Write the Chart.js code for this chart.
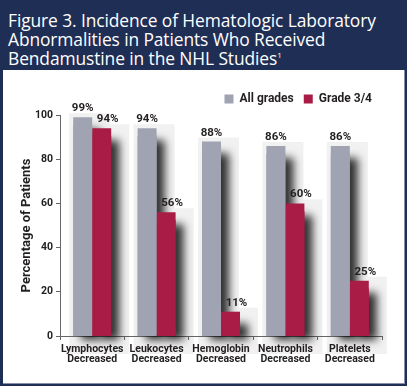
<!DOCTYPE html>
<html>
<head>
<meta charset="utf-8">
<script src="https://cdn.jsdelivr.net/npm/chart.js@4"></script>
<style>
  html, body { margin: 0; padding: 0; }
  body { width: 407px; height: 386px; background: #1f2e54; position: relative; overflow: hidden; }
  #title {
    position: absolute; left: 8px; top: 11px; width: 396px;
    color: #fff; font-family: "Open Sans", sans-serif; font-size: 17.4px; line-height: 19px;
    letter-spacing: -0.1px; white-space: nowrap;
  }
  #title sup { font-size: 8px; vertical-align: 7px; line-height: 0; }
  #panel {
    position: absolute; left: 3px; top: 70px; width: 402px; height: 314px;
    background: #fff; border-right: 1px solid #8a90aa; border-bottom: 1px solid #8a90aa; box-sizing: border-box;
  }
  #chart { position: absolute; left: 0; top: 0; }
</style>
</head>
<body>
<div id="title">Figure 3. Incidence of Hematologic Laboratory<br>Abnormalities in Patients Who Received<br>Bendamustine in the NHL Studies<sup>1</sup></div>
<div id="panel"><canvas id="chart" width="401" height="313"></canvas></div>
<script>
// data
const categories = [
  ['Lymphocytes', 'Decreased'],
  ['Leukocytes', 'Decreased'],
  ['Hemoglobin', 'Decreased'],
  ['Neutrophils', 'Decreased'],
  ['Platelets', 'Decreased'],
];
const allGrades = [99, 94, 88, 86, 86];
const grade34 = [94, 56, 11, 60, 25];
const seriesNames = ['All grades', 'Grade 3/4'];
const yTicks = [0, 20, 40, 60, 80, 100];

const GRAY = '#a0a3b1';
const RED = '#a81c45';
const TXT = '#231f20';
const FONT = 'Roboto, "Open Sans", sans-serif';
const NARROW = '"Liberation Sans Narrow", Roboto, sans-serif';

// light panels behind bars (drawn before the axes) and drop shadows
const shadowPlugin = {
  id: 'barShadows',
  beforeDraw(chart) {
    const ctx = chart.ctx;
    const base = chart.scales.y.getPixelForValue(0);
    ctx.save();
    ctx.fillStyle = '#f1f1f2';
    chart.data.datasets.forEach((ds, i) => {
      chart.getDatasetMeta(i).data.forEach((bar) => {
        const w = bar.width;
        ctx.fillRect(bar.x - w / 2 - 4, bar.y - 4, w + 22, base - bar.y + 22);
      });
    });
    ctx.restore();
  },
  beforeDatasetsDraw(chart) {
    const ctx = chart.ctx;
    const base = chart.scales.y.getPixelForValue(0);
    chart.data.datasets.forEach((ds, i) => {
      chart.getDatasetMeta(i).data.forEach((bar) => {
        const w = bar.width;
        ctx.save();
        ctx.shadowColor = 'rgba(0,0,0,0.8)';
        ctx.shadowBlur = 9;
        ctx.shadowOffsetX = 8;
        ctx.shadowOffsetY = 4;
        ctx.fillStyle = ds.backgroundColor;
        ctx.fillRect(bar.x - w / 2, bar.y + 8, w, base - bar.y - 8);
        ctx.restore();
      });
    });
  },
  afterDatasetsDraw(chart) {
    const ctx = chart.ctx;
    ctx.save();
    ctx.font = 'bold 11.5px ' + FONT;
    ctx.fillStyle = TXT;
    ctx.textAlign = 'center';
    ctx.textBaseline = 'alphabetic';
    chart.data.datasets.forEach((ds, i) => {
      chart.getDatasetMeta(i).data.forEach((bar, j) => {
        const dx = i === 1 ? 6 : 0;
        ctx.fillText(ds.data[j] + '%', bar.x + dx, bar.y - 6);
      });
    });
    ctx.restore();
  }
};

new Chart(document.getElementById('chart'), {
  type: 'bar',
  data: {
    labels: categories,
    datasets: [
      { label: seriesNames[0], data: allGrades, backgroundColor: GRAY },
      { label: seriesNames[1], data: grade34, backgroundColor: RED },
    ],
  },
  options: {
    responsive: false,
    animation: false,
    events: [],
    layout: { padding: { left: 16, right: 22, top: 13, bottom: 14 } },
    datasets: { bar: { barPercentage: 1, categoryPercentage: 0.59 } },
    plugins: {
      legend: {
        position: 'top',
        align: 'end',
        labels: {
          boxWidth: 9, boxHeight: 9, padding: 10,
          color: TXT,
          font: { family: FONT, size: 12, weight: 'bold' },
        },
      },
      tooltip: { enabled: false },
    },
    scales: {
      x: {
        grid: { drawOnChartArea: false, tickLength: 4, color: '#666' },
        border: { color: '#666' },
        ticks: {
          color: TXT, font: { family: NARROW, size: 10.5, weight: 'bold', lineHeight: 1 },
          padding: 4, maxRotation: 0, autoSkip: false,
        },
      },
      y: {
        min: 0, max: 100,
        afterBuildTicks(scale) { scale.ticks = yTicks.map((v) => ({ value: v })); },
        afterFit(scale) { scale.width = 41; },
        grid: { drawOnChartArea: false, tickLength: 4, color: '#666' },
        border: { color: '#666' },
        ticks: { color: TXT, font: { family: FONT, size: 10.5, weight: 'bold' }, padding: 3 },
        title: {
          display: true, text: 'Percentage of Patients', color: TXT,
          font: { family: NARROW, size: 13, weight: 'bold' }, padding: { top: 0, bottom: 0 },
        },
      },
    },
  },
  plugins: [shadowPlugin],
});
</script>
</body>
</html>
